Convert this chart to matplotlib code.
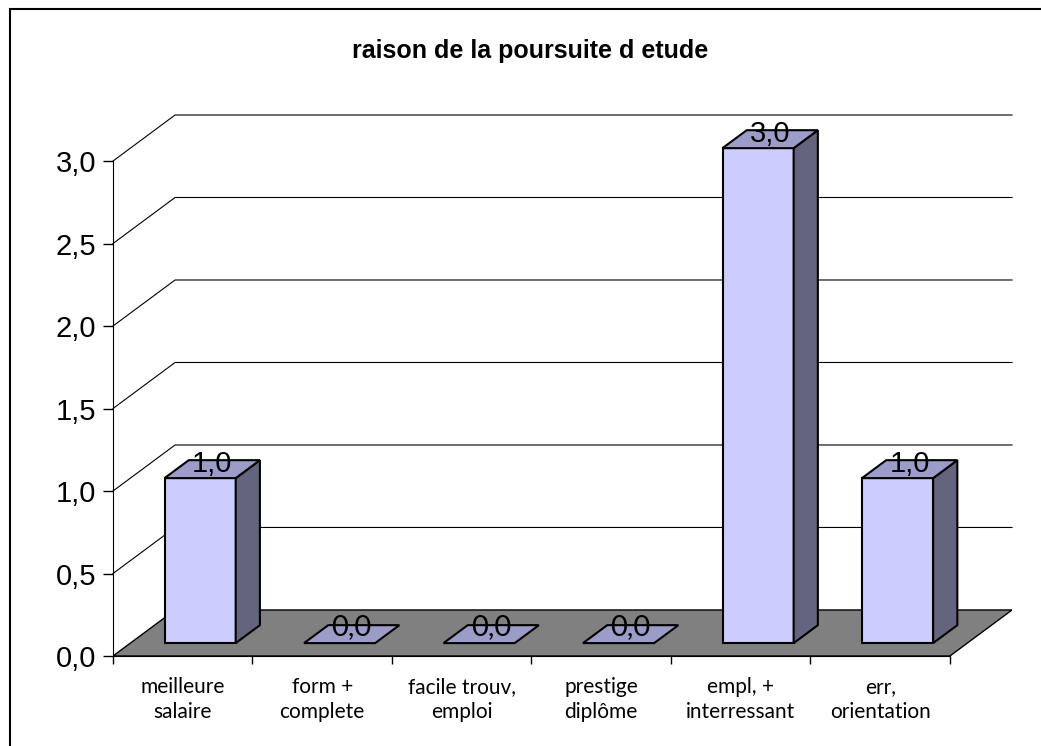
import matplotlib.pyplot as plt
from matplotlib.patches import Polygon, Rectangle

categories = ["meilleure\nsalaire", "form +\ncomplete", "facile trouv,\nemploi",
              "prestige\ndiplôme", "empl, +\ninterressant", "err,\norientation"]
values = [1.0, 0.0, 0.0, 0.0, 3.0, 1.0]
yticks = [0.0, 0.5, 1.0, 1.5, 2.0, 2.5, 3.0]
title = "raison de la poursuite d etude"

# pseudo 3d depth, in data units
DX = 0.445
DY = 0.279
z0, z1 = 0.28, 0.67
w = 0.51

front = "#ccccff"
top = "#9c9cc8"
side = "#64647e"

W, H = 1041, 746
fig = plt.figure(figsize=(W / 100, H / 100), dpi=100)
ax = fig.add_axes([113 / W, (H - 656) / H, (1012 - 113) / W, (656 - 115) / H])
n = len(values)
ax.set_xlim(-0.5, n - 0.5 + DX)
ax.set_ylim(0, 3.0 + DY)

for s in ["top", "right"]:
    ax.spines[s].set_visible(False)
ax.spines["left"].set_bounds(0, 3.0)
ax.spines["bottom"].set_bounds(-0.5, n - 0.5)
ax.spines["left"].set_zorder(5)

# back wall gridlines
for v in yticks[1:]:
    ax.plot([-0.5, -0.5 + DX, n - 0.5 + DX], [v, v + DY, v + DY],
            color="black", lw=0.8, zorder=1, clip_on=False)

floor = Polygon([(-0.5, 0), (n - 0.5, 0), (n - 0.5 + DX, DY), (-0.5 + DX, DY)],
                closed=True, facecolor="#808080", edgecolor="black", lw=1.0, zorder=2)
ax.add_patch(floor)

for i, v in enumerate(values):
    xl = i - w / 2 + z0 * DX
    xr = i + w / 2 + z0 * DX
    yb = z0 * DY
    ddx = (z1 - z0) * DX
    ddy = (z1 - z0) * DY
    yt = v + yb
    if v > 0:
        ax.add_patch(Polygon([(xl, yb), (xr, yb), (xr, yt), (xl, yt)],
                             facecolor=front, edgecolor="black", lw=1.5, zorder=3))
        ax.add_patch(Polygon([(xr, yb), (xr + ddx, yb + ddy), (xr + ddx, yt + ddy), (xr, yt)],
                             facecolor=side, edgecolor="black", lw=1.5, zorder=3))
    ax.add_patch(Polygon([(xl, yt), (xr, yt), (xr + ddx, yt + ddy), (xl + ddx, yt + ddy)],
                         facecolor=top, edgecolor="black", lw=1.5, zorder=3))
    cx = (xl + xr) / 2 + ddx / 2
    cy = yt + ddy / 2
    lab = f"{v:.1f}".replace(".", ",")
    if v > 0:
        ax.annotate(lab, (cx, cy), xytext=(0, -2), textcoords="offset points",
                    ha="center", va="baseline", fontsize=21,
                    family="Liberation Sans", zorder=6)
    else:
        ax.annotate(lab, (cx, cy), xytext=(0, -1), textcoords="offset points",
                    ha="center", va="baseline", fontsize=21,
                    family="Lato", zorder=6)

ax.set_yticks(yticks)
ax.set_yticklabels([f"{t:.1f}".replace(".", ",") for t in yticks],
                   fontsize=21, family="Liberation Sans")
ax.tick_params(axis="y", length=7, width=1, pad=5)

ax.set_xticks(range(n))
ax.set_xticklabels(categories, fontsize=15, family="Lato", linespacing=1.3)
ax.set_xticks([i - 0.5 for i in range(n + 1)], minor=True)
ax.tick_params(axis="x", which="major", length=0, pad=15)
ax.tick_params(axis="x", which="minor", length=6, width=1)

fig.text(530 / W, 1 - 58 / H, title, ha="center", va="baseline",
         fontsize=18, fontweight="bold", family="Liberation Sans")

fig.patches.append(Rectangle((10 / W, -0.1), 2, 1 - 9 / H + 0.1, transform=fig.transFigure,
                             fill=False, edgecolor="black", lw=1.5))

fig.savefig("out.png", dpi=100)
